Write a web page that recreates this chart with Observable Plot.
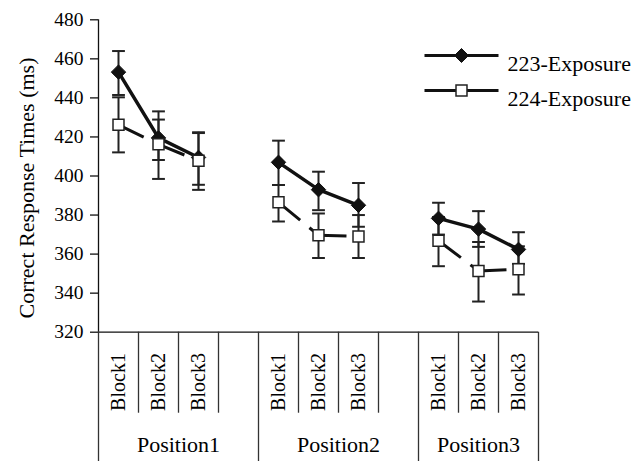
<!DOCTYPE html>
<html>
<head>
<meta charset="utf-8">
<script src="https://cdn.jsdelivr.net/npm/d3@7"></script>
<script src="https://cdn.jsdelivr.net/npm/@observablehq/plot@0.6"></script>
<style>
  body { margin: 0; background: #fff; }
  #chart svg { display: block; }
  #chart svg, #chart svg text { font-family: "Liberation Serif", "Times New Roman", Times, serif !important; }
</style>
</head>
<body>
<div id="chart"></div>
<script>
// ---- data ----
const positions = ["Position1", "Position2", "Position3"];
const blocks = ["Block1", "Block2", "Block3"];
const seriesNames = ["223-Exposure", "224-Exposure"];
const yTicks = [320, 340, 360, 380, 400, 420, 440, 460, 480];
const yTitle = "Correct Response Times (ms)";

// 223-Exposure (filled diamonds)
const rt223 = [453.2, 419.5, 409.5, 407.0, 393.0, 385.0, 378.3, 372.8, 362.4];
const lo223 = [441.5, 408.2, 395.5, 395.4, 382.5, 374.0, 370.0, 363.7, 355.0];
const hi223 = [464.0, 433.1, 422.4, 418.1, 402.2, 396.4, 386.3, 382.0, 371.2];
// 224-Exposure (open squares)
const rt224 = [426.2, 416.2, 407.8, 386.5, 369.7, 369.0, 366.8, 351.4, 352.3];
const lo224 = [412.1, 398.5, 392.9, 376.7, 358.0, 358.0, 353.8, 335.7, 339.3];
const hi224 = [440.3, 428.9, 422.0, 395.4, 380.8, 380.0, 379.0, 366.2, 364.0];

// ---- layout constants ----
const slotsPerPosition = blocks.length + 1;          // 3 blocks + 1 empty slot
const xMin = -0.5;
const xMax = (positions.length - 1) * slotsPerPosition + blocks.length - 0.5;
const capHalf = 0.16;
const tableBottom = 253.5, blockRowBottom = 278.5, blockLabelY = 294.5, positionLabelY = 262.5;
const font = "Liberation Serif, Times New Roman, Times, serif";
const ink = "#111";

// ---- derived tables ----
const rows = positions.flatMap((pos, p) => blocks.map((blk, b) => ({
  pos, blk, slot: p * slotsPerPosition + b, i: p * blocks.length + b
})));
const d223 = rows.map(r => ({...r, rt: rt223[r.i], lo: lo223[r.i], hi: hi223[r.i]}));
const d224 = rows.map(r => ({...r, rt: rt224[r.i], lo: lo224[r.i], hi: hi224[r.i]}));
const caps = [...d223, ...d224].flatMap(d => [{slot: d.slot, v: d.lo}, {slot: d.slot, v: d.hi}]);
const seg224 = d224.flatMap((d, k) => {
  const n = d224[k + 1];
  return n && n.pos === d.pos ? [{x1: d.slot, y1: d.rt, x2: n.slot, y2: n.rt}] : [];
});
const spans = positions.map((pos, p) => {
  const start = p * slotsPerPosition - 0.5;
  const end = Math.min(start + slotsPerPosition, xMax);
  return {pos, start, end, mid: (start + end) / 2};
});
const longSeps = [xMin, ...spans.map(s => s.end)];
const shortSeps = rows.map(r => r.slot + 0.5).filter(v => !longSeps.includes(v));

const hline = {draw(ctx) { ctx.moveTo(-37, 0); ctx.lineTo(37, 0); }};

const legendMarks = seriesNames.flatMap((name, i) => {
  const dy = 35.7 + i * 35;
  return [
    Plot.dot([name], {frameAnchor: "top-right", dx: -77, dy, symbol: hline, r: 1, fill: "none", stroke: ink, strokeWidth: 3}),
    i === 0
      ? Plot.dot([name], {frameAnchor: "top-right", dx: -77, dy, symbol: "diamond2", r: 6.3, fill: ink, stroke: ink, strokeWidth: 1})
      : Plot.dot([name], {frameAnchor: "top-right", dx: -77, dy, symbol: "square", r: 6.2, fill: "white", stroke: "#222", strokeWidth: 1.5}),
    Plot.text([name], {frameAnchor: "top-right", dx: -31, dy, text: d => d, textAnchor: "start", fontSize: 22, fontFamily: font, fill: "#000"})
  ];
});

const chart = Plot.plot({
  width: 642,
  height: 461,
  marginLeft: 98,
  marginRight: 104,
  marginTop: 19.3,
  marginBottom: 129.3,
  style: {fontFamily: font, fontSize: "19px", color: "#000", background: "white"},
  x: {domain: [xMin, xMax], axis: null},
  y: {domain: [320, 480], axis: null},
  marks: [
    // y axis
    Plot.axisY({ticks: yTicks, tickSize: 8, tickPadding: 7, label: null, stroke: ink, strokeWidth: 1.3, fontSize: 19.5, fontFamily: font, fill: "#000"}),
    Plot.ruleX([xMin], {y1: 320, y2: 480, stroke: ink, strokeWidth: 1.3}),
    Plot.text([yTitle], {frameAnchor: "left", rotate: -90, dx: -72, dy: 12, text: d => d, textAnchor: "middle", fontSize: 22, fontFamily: font, fill: "#000"}),
    // x axis / category table
    Plot.ruleY([320], {x1: xMin, x2: xMax, stroke: ink, strokeWidth: 1.3}),
    Plot.ruleX(longSeps, {y1: tableBottom, y2: 320, stroke: "#333", strokeWidth: 1.3}),
    Plot.ruleX(shortSeps, {y1: blockRowBottom, y2: 320, stroke: "#333", strokeWidth: 1.3}),
    Plot.text(rows, {x: "slot", y: blockLabelY, text: "blk", rotate: -90, fontSize: 20, fontFamily: font, fill: "#000"}),
    Plot.text(spans, {x: "mid", y: positionLabelY, text: "pos", fontSize: 22, fontFamily: font, fill: "#000"}),
    // error bars
    Plot.ruleX([...d224, ...d223], {x: "slot", y1: "lo", y2: "hi", stroke: "#222", strokeWidth: 2}),
    Plot.link(caps, {x1: d => d.slot - capHalf, x2: d => d.slot + capHalf, y1: "v", y2: "v", stroke: "#222", strokeWidth: 2}),
    // lines
    Plot.line(d223, {x: "slot", y: "rt", z: "pos", stroke: ink, strokeWidth: 3.5}),
    Plot.link(seg224, {x1: "x1", y1: "y1", x2: "x2", y2: "y2", stroke: ink, strokeWidth: 3, strokeDasharray: "28,12"}),
    // markers
    Plot.dot(d223, {x: "slot", y: "rt", symbol: "diamond2", r: 6.5, fill: ink, stroke: ink, strokeWidth: 1}),
    Plot.dot(d224, {x: "slot", y: "rt", symbol: "square", r: 6.2, fill: "white", stroke: "#222", strokeWidth: 1.5}),
    // legend
    ...legendMarks
  ]
});
document.getElementById("chart").append(chart);
</script>
</body>
</html>
